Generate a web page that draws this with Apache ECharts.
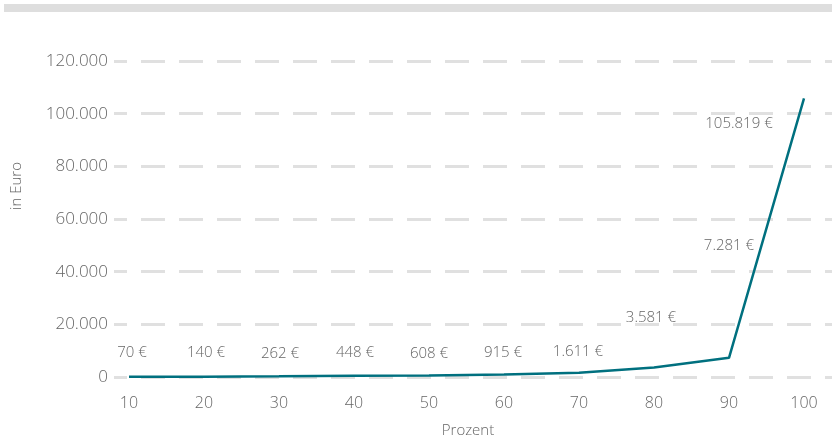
<!DOCTYPE html>
<html>
<head>
<meta charset="utf-8">
<script src="https://cdn.jsdelivr.net/npm/echarts@6/dist/echarts.min.js"></script>
<style>
html,body{margin:0;padding:0;background:#fff;}
#bar{position:absolute;left:4px;top:4px;width:828px;height:8px;background:#dedede;}
#chart{position:absolute;left:0;top:0;width:832px;height:440px;}
</style>
</head>
<body>
<div id="bar"></div>
<div id="chart"></div>
<script>
const categories = [10, 20, 30, 40, 50, 60, 70, 80, 90, 100];
const values = [70, 140, 262, 448, 608, 915, 1611, 3581, 7281, 105819];
const yTicks = [0, 20000, 40000, 60000, 80000, 100000, 120000];
const xTickLabels = [10, 20, 30, 40, 50, 60, 70, 80, 90, 100];

const labelOffsets = [[3,-24],[2,-24],[1,-23],[1,-23],[0,-22],[-1,-22],[-1,-21],[-3,-50],[0,-112],[-65,25]];

function fmt(v){
  return String(v).replace(/\B(?=(\d{3})+(?!\d))/g, '.');
}
const FONT = '"Open Sans", sans-serif';
const TXT = '#666666';

const chart = echarts.init(document.getElementById('chart'), null, {renderer:'canvas'});
const option = {
  animation:false,
  grid:{left:114, right:-2, top:61, bottom:63, containLabel:false, outerBoundsMode:'none'},
  xAxis:{
    type:'value', min:8, max:104,
    name:'Prozent', nameLocation:'middle', nameGap:46,
    nameTextStyle:{color:TXT, fontSize:15, fontFamily:FONT, fontWeight:300, padding:[0,12,0,0]},
    axisLine:{show:false}, axisTick:{show:false}, splitLine:{show:false},
    axisLabel:{customValues:xTickLabels, color:TXT, fontSize:16, fontFamily:FONT, fontWeight:300, margin:18}
  },
  yAxis:{
    type:'value', min:yTicks[0], max:yTicks[yTicks.length-1], interval:yTicks[1]-yTicks[0],
    name:'in Euro', nameLocation:'middle', nameGap:90,
    nameTextStyle:{color:TXT, fontSize:15, fontFamily:FONT, fontWeight:300, padding:[0,0,0,66]},
    axisLine:{show:false}, axisTick:{show:false},
    axisLabel:{color:TXT, fontSize:17, fontFamily:FONT, fontWeight:300, margin:6, formatter:v=>fmt(v)},
    splitLine:{show:true, lineStyle:{color:'#e0e0e0', width:3, type:[24,14], dashOffset:11}}
  },
  series:[{
    type:'line',
    data: categories.map((c,i)=>[c, values[i]]),
    showSymbol:true, symbol:'circle', symbolSize:1,
    itemStyle:{color:'rgba(0,0,0,0)'},
    lineStyle:{color:'#00707f', width:2.5},
    label:{show:true, position:'inside', color:TXT, fontSize:15, fontFamily:FONT, fontWeight:300,
      formatter:p=>fmt(p.value[1])+' €'},
    labelLayout:p=>({dx:labelOffsets[p.dataIndex][0], dy:labelOffsets[p.dataIndex][1], hideOverlap:false}),
    z:5
  }]
};
chart.setOption(option);
</script>
</body>
</html>
